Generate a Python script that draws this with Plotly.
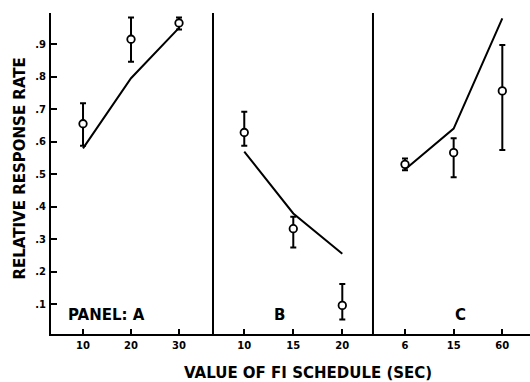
import plotly.graph_objects as go

# Schedule values (seconds) for each panel
sched_a = [10, 20, 30]
sched_b = [10, 15, 20]
sched_c = ["6", "15", "60"]

# Obtained relative response rates (means) with error-bar limits
obs_a = [0.655, 0.915, 0.965]
hi_a = [0.718, 0.982, 0.982]
lo_a = [0.587, 0.846, 0.945]

obs_b = [0.628, 0.332, 0.096]
hi_b = [0.692, 0.369, 0.162]
lo_b = [0.587, 0.274, 0.053]

obs_c = [0.530, 0.566, 0.756]
hi_c = [0.548, 0.610, 0.897]
lo_c = [0.512, 0.490, 0.574]

# Predicted relative response rates
pred_a = [0.579, 0.795, 0.950]
pred_b = [0.569, 0.379, 0.255]
pred_c = [0.514, 0.640, 0.979]

y_tickvals = [0.1, 0.2, 0.3, 0.4, 0.5, 0.6, 0.7, 0.8, 0.9]
y_ticktext = [".1", ".2", ".3", ".4", ".5", ".6", ".7", ".8", ".9"]

panel_labels = ["PANEL: A", "B", "C"]

FONT = "DejaVu Sans"
BLACK = "#000000"

fig = go.Figure()

panels = [
    ("x", sched_a, obs_a, hi_a, lo_a, pred_a),
    ("x2", sched_b, obs_b, hi_b, lo_b, pred_b),
    ("x3", sched_c, obs_c, hi_c, lo_c, pred_c),
]

for xref, xs, obs, hi, lo, pred in panels:
    fig.add_trace(go.Scatter(
        x=xs, y=pred, xaxis=xref, yaxis="y", mode="lines",
        line=dict(color=BLACK, width=2), showlegend=False, hoverinfo="skip",
    ))
    fig.add_trace(go.Scatter(
        x=xs, y=obs, xaxis=xref, yaxis="y", mode="markers",
        marker=dict(symbol="circle", size=7.5, color="white",
                    line=dict(color=BLACK, width=1.8)),
        error_y=dict(type="data", symmetric=False,
                     array=[h - m for h, m in zip(hi, obs)],
                     arrayminus=[m - l for m, l in zip(obs, lo)],
                     color=BLACK, thickness=2, width=3),
        showlegend=False,
    ))

tick_font = dict(family=FONT, size=10, color=BLACK, weight="bold")

x_common = dict(
    showline=True, linecolor=BLACK, linewidth=2, mirror=False,
    ticks="inside", ticklen=5, tickwidth=1.5, tickcolor=BLACK,
    showgrid=False, zeroline=False, tickfont=tick_font, anchor="y",
    ticklabelstandoff=1, fixedrange=True,
)

fig.update_layout(
    width=530, height=382,
    margin=dict(l=51, r=0, t=13, b=48),
    paper_bgcolor="white", plot_bgcolor="white",
    xaxis=dict(domain=[0, 0.3382], range=[3.33, 37.08],
               tickvals=sched_a, **x_common),
    xaxis2=dict(domain=[0.3382, 0.6722], range=[6.81, 23.13],
                tickvals=sched_b, **x_common),
    xaxis3=dict(domain=[0.6722, 1.0], range=[-0.658, 2.569],
                type="category", categoryorder="array",
                categoryarray=sched_c, **x_common),
    yaxis=dict(range=[0.008, 0.9957], tickvals=y_tickvals,
               ticktext=y_ticktext, showline=True, linecolor=BLACK,
               linewidth=2, ticks="inside", ticklen=6, tickwidth=1.5,
               tickcolor=BLACK, showgrid=False, zeroline=False,
               tickfont=tick_font, ticklabelstandoff=1, fixedrange=True),
)

# Panel separators
for xp in [0.3382, 0.6722]:
    fig.add_shape(type="line", xref="paper", yref="paper",
                  x0=xp, x1=xp, y0=0, y1=1,
                  line=dict(color=BLACK, width=2))

label_font = dict(family=FONT, size=15, color=BLACK, weight="bold")

# Panel labels
label_x = [0.1159, 0.478, 0.854]
for text, xp in zip(panel_labels, label_x):
    fig.add_annotation(text=text, xref="paper", yref="y", x=xp, y=0.066,
                       showarrow=False, font=label_font,
                       xanchor="center", yanchor="middle")

# Axis titles
fig.add_annotation(text="RELATIVE RESPONSE RATE", xref="paper", yref="paper",
                   x=-0.0647, y=0.5156, textangle=-90, showarrow=False,
                   font=label_font, xanchor="center", yanchor="middle")
fig.add_annotation(text="VALUE OF FI SCHEDULE (SEC)", xref="paper", yref="paper",
                   x=0.536, y=-0.121, showarrow=False,
                   font=label_font, xanchor="center", yanchor="middle")

fig.write_html("out.html")
